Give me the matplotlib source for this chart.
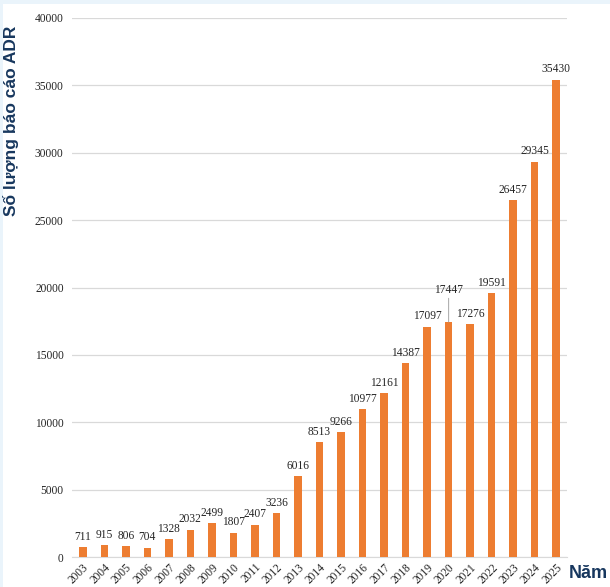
import matplotlib
matplotlib.use("Agg")
import matplotlib.pyplot as plt
from matplotlib.patches import Rectangle

years = [str(y) for y in range(2003, 2026)]
reports = [711, 915, 806, 704, 1328, 2032, 2499, 1807, 2407, 3236, 6016, 8513,
           9266, 10977, 12161, 14387, 17097, 17447, 17276, 19591, 26457, 29345, 35430]
yticks = [0, 5000, 10000, 15000, 20000, 25000, 30000, 35000, 40000]

bar_color = "#ED7D31"
navy = "#17375E"
serif = ["Liberation Serif", "DejaVu Serif"]

fig = plt.figure(figsize=(6.1, 5.87), dpi=100, facecolor="#EAF4FB")
# white panel, light blue strip along top/left
fig.patches.append(Rectangle((3 / 610, 0), 1, 1 - 4 / 587, transform=fig.transFigure,
                             facecolor="white", edgecolor="none", zorder=-5))

ax = fig.add_axes([72 / 610, 1 - 557 / 587, 495 / 610, 539 / 587])
ax.set_zorder(2)
ax.set_facecolor("none")
x = list(range(len(years)))
bars = ax.bar(x, reports, width=0.35, color=bar_color, zorder=3)

ax.set_xlim(-0.5, len(years) - 0.5)
ax.set_ylim(0, 40000)
ax.set_yticks(yticks)
ax.set_yticklabels([str(v) for v in yticks], fontfamily=serif, fontsize=8.3, color="#262626")
ax.set_xticks(x)
ax.set_xticklabels(years, rotation=45, ha="right", rotation_mode="anchor",
                   fontfamily=serif, fontsize=8.3, color="#262626")
ax.tick_params(axis="both", length=0, pad=6)
ax.tick_params(axis="x", pad=3)
ax.grid(axis="y", color="#D9D9D9", linewidth=0.9, zorder=0)
for s in ["top", "right", "left"]:
    ax.spines[s].set_visible(False)
ax.spines["bottom"].set_color("#D9D9D9")

for i, (b, v) in enumerate(zip(bars, reports)):
    if years[i] == "2020":
        ax.annotate(str(v), (b.get_x() + b.get_width() / 2, v), xytext=(0, 19),
                    textcoords="offset points", ha="center", va="bottom",
                    fontfamily=serif, fontsize=8.3, color="#262626",
                    arrowprops=dict(arrowstyle="-", color="#A6A6A6", lw=0.7,
                                    shrinkA=0, shrinkB=0))
    else:
        ax.annotate(str(v), (b.get_x() + b.get_width() / 2, v), xytext=(0, 3),
                    textcoords="offset points", ha="center", va="bottom",
                    fontfamily=serif, fontsize=8.3, color="#262626")

fig.text(11 / 610, 1 - 121 / 587, "Số lượng báo cáo ADR", rotation=90, ha="center",
         va="center", fontsize=12.5, fontweight="bold", color=navy,
         family=["Liberation Sans", "DejaVu Sans"])
fig.text(588 / 610, 1 - 573 / 587, "Năm", ha="center", va="center", fontsize=13,
         fontweight="bold", color=navy, family=["Liberation Sans", "DejaVu Sans"])

fig.savefig("out.png", dpi=100, facecolor=fig.get_facecolor())
